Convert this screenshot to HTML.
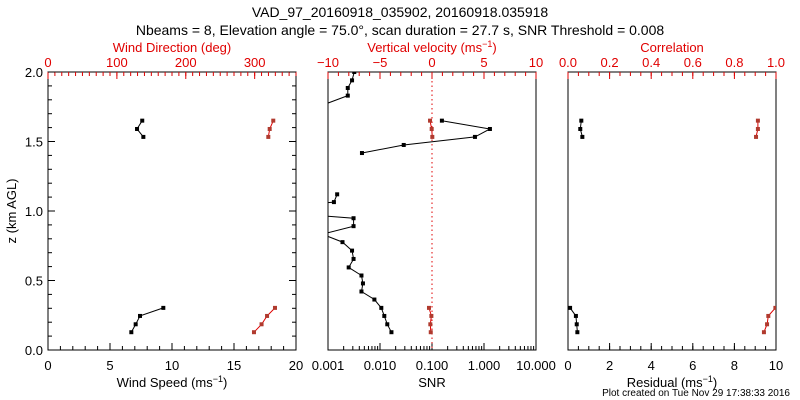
<!DOCTYPE html>
<html><head><meta charset="utf-8"><style>
body{margin:0;background:#fff;}
svg{display:block;font-family:"Liberation Sans",sans-serif;}
</style></head><body>
<svg id="c" width="800" height="400" viewBox="0 0 800 400">
<text x="400" y="17" text-anchor="middle" font-size="14">VAD_97_20160918_035902, 20160918.035918</text>
<text x="400" y="35" text-anchor="middle" font-size="14">Nbeams = 8, Elevation angle = 75.0°, scan duration = 27.7 s, SNR Threshold = 0.008</text>
<text transform="translate(16,211) rotate(-90)" text-anchor="middle" font-size="13">z (km AGL)</text>
<text x="790" y="396" text-anchor="end" font-size="10">Plot created on Tue Nov 29 17:38:33 2016</text>
</svg>
<script>
// ---- data ----
const zLow=[0.128,0.185,0.245,0.303];
const zHigh=[1.533,1.59,1.65];
const speedLow=[6.72,7.07,7.42,9.3];
const speedHigh=[7.69,7.18,7.6];
const dirLow=[299,310,318,329.5];
const dirHigh=[319.8,321.8,327];
const snrZ=[0.128,0.185,0.245,0.303,0.363,0.421,0.479,0.536,0.594,0.655,0.715,0.776,0.833,0.891,0.948,1.006,1.064,1.12,null,1.417,1.475,1.533,1.59,1.65,null,1.77,1.83,1.885,1.94,2.0];
const snrVal=[0.0166,0.0138,0.0121,0.0106,0.0078,0.0044,0.0047,0.0044,0.0025,0.0031,0.0029,0.0019,0.00078,0.0031,0.0031,0.00003,0.0013,0.0015,null,0.0045,0.0286,0.67,1.30,0.155,null,0.0009,0.0024,0.0024,0.0029,0.0032];
const wLow=[-0.12,-0.16,-0.06,-0.29];
const wHigh=[0.03,-0.03,-0.19];
const resLow=[0.45,0.42,0.38,0.1];
const resHigh=[0.69,0.59,0.64];
const corLow=[0.942,0.957,0.963,0.997];
const corHigh=[0.904,0.913,0.913];
const yTicks=["0.0","0.5","1.0","1.5","2.0"];
const speedTicks=["0","5","10","15","20"];
const dirTicks=["0","100","200","300"];
const snrTicks=["0.001","0.010","0.100","1.000","10.000"];
const wTicks=["−10","−5","0","5","10"];
const resTicks=["0","2","4","6","8","10"];
const corTicks=["0.0","0.2","0.4","0.6","0.8","1.0"];

const svg=document.getElementById('c');const NS='http://www.w3.org/2000/svg';
function el(t,a,p){const e=document.createElementNS(NS,t);for(const k in a)e.setAttribute(k,a[k]);(p||svg).appendChild(e);return e;}
const Y0=350,Y1=72;
const yS=z=>Y0+(Y1-Y0)*z/2;
const P=[{x0:48,x1:296},{x0:328,x1:536},{x0:568,x1:776}];
const lin=(p,a,b)=>v=>p.x0+(p.x1-p.x0)*(v-a)/(b-a);
const xSpeed=lin(P[0],0,20),xDir=lin(P[0],0,360);
const xSnr=v=>P[1].x0+(P[1].x1-P[1].x0)*(Math.log10(v)+3)/4;
const xW=lin(P[1],-10,10);
const xRes=lin(P[2],0,10),xCor=lin(P[2],0,1);
const RED='#e00000',BR='#b03a2e';

P.forEach((p,i)=>{
 const c=el('clipPath',{id:'cp'+i});el('rect',{x:p.x0,y:Y1,width:p.x1-p.x0,height:Y0-Y1},c);
});
// frames
P.forEach((p,i)=>{
 const r=el('rect',{x:p.x0,y:Y1,width:p.x1-p.x0,height:Y0-Y1,fill:'none',stroke:'#000','stroke-width':1});
 
 
});
function hTicks(p,scale,majors,minors,y,dir,col,labels,ly){
 minors.forEach(v=>{const x=scale(v);el('line',{x1:x,x2:x,y1:y,y2:y+dir*4,stroke:col});});
 majors.forEach((v,i)=>{const x=scale(v);el('line',{x1:x,x2:x,y1:y,y2:y+dir*7,stroke:col});
  const t=el('text',{x:x,y:ly,'text-anchor':'middle','font-size':13,fill:col});t.textContent=labels[i];
  
  });
}
const rng=(a,b,s)=>{const r=[];for(let v=a;v<=b+1e-9;v+=s)r.push(+v.toFixed(6));return r;};
// panel 1
hTicks(P[0],xSpeed,[0,5,10,15,20],rng(0,20,1),Y0,-1,'#000',speedTicks,370);
hTicks(P[0],xDir,[0,100,200,300],rng(0,360,10),Y1,1,RED,dirTicks,67);
[0,0.5,1,1.5,2].forEach((z,i)=>{const y=yS(z);
 el('line',{x1:P[0].x0,x2:P[0].x0+7,y1:y,y2:y,stroke:'#000'});el('line',{x1:P[0].x1,x2:P[0].x1-7,y1:y,y2:y,stroke:'#000'});
 const t=el('text',{x:43,y:y+5,'text-anchor':'end','font-size':13});t.textContent=yTicks[i];
 
 });
rng(0,2,0.1).forEach(z=>{const y=yS(z);el('line',{x1:P[0].x0,x2:P[0].x0+4,y1:y,y2:y,stroke:'#000'});el('line',{x1:P[0].x1,x2:P[0].x1-4,y1:y,y2:y,stroke:'#000'});});
// panel 2
const snrMin=[];for(let d=-3;d<1;d++)for(let k=1;k<10;k++)snrMin.push(k*Math.pow(10,d));
hTicks(P[1],xSnr,[0.001,0.01,0.1,1,10],snrMin,Y0,-1,'#000',snrTicks,370);
hTicks(P[1],xW,[-10,-5,0,5,10],rng(-10,10,1),Y1,1,RED,wTicks,67);
// panel 3
hTicks(P[2],xRes,[0,2,4,6,8,10],rng(0,10,0.5),Y0,-1,'#000',resTicks,370);
hTicks(P[2],xCor,[0,0.2,0.4,0.6,0.8,1],rng(0,1,0.05),Y1,1,RED,corTicks,67);
// axis titles
function title(x,y,txt,col,name){const t=el('text',{x:x,y:y,'text-anchor':'middle','font-size':13,fill:col});t.innerHTML=txt;
 
 }
title(172,387,'Wind Speed (ms<tspan dy="-5" font-size="9">−1</tspan><tspan dy="5">)</tspan>','#000','x-axis-title-speed');
title(172,52,'Wind Direction (deg)',RED,'x-axis-title-direction');
title(432,387,'SNR','#000','x-axis-title-snr');
title(432,52,'Vertical velocity (ms<tspan dy="-5" font-size="9">−1</tspan><tspan dy="5">)</tspan>',RED,'x-axis-title-w');
title(672,387,'Residual (ms<tspan dy="-5" font-size="9">−1</tspan><tspan dy="5">)</tspan>','#000','x-axis-title-residual');
title(672,52,'Correlation',RED,'x-axis-title-correlation');
// dotted zero line
const zl=el('line',{x1:xW(0),x2:xW(0),y1:Y1,y2:Y0,stroke:RED,'stroke-dasharray':'1.5,3'});


// series
function series(xs,zs,xf,lc,mc,clip,name){
 const g=el('g',{'clip-path':'url(#cp'+clip+')'});
 
 
 let d='',pen=false;
 for(let i=0;i<xs.length;i++){if(xs[i]==null||zs[i]==null){pen=false;continue;}
  d+=(pen?'L':'M')+xf(xs[i]).toFixed(1)+','+yS(zs[i]).toFixed(1);pen=true;}
 el('path',{d:d,fill:'none',stroke:lc,'stroke-width':1},g);
 for(let i=0;i<xs.length;i++){if(xs[i]==null||zs[i]==null)continue;
  el('rect',{x:xf(xs[i])-2,y:yS(zs[i])-2,width:4,height:4,fill:mc},g);}
}
series(speedLow,zLow,xSpeed,'#000','#000',0,'speed-low');
series(speedHigh,zHigh,xSpeed,'#000','#000',0,'speed-high');
series(dirLow,zLow,xDir,RED,BR,0,'direction-low');
series(dirHigh,zHigh,xDir,RED,BR,0,'direction-high');
series(snrVal,snrZ,xSnr,'#000','#000',1,'snr-profile');
series(wLow,zLow,xW,RED,BR,1,'w-low');
series(wHigh,zHigh,xW,RED,BR,1,'w-high');
series(resLow,zLow,xRes,'#000','#000',2,'residual-low');
series(resHigh,zHigh,xRes,'#000','#000',2,'residual-high');
series(corLow,zLow,xCor,RED,BR,2,'correlation-low');
series(corHigh,zHigh,xCor,RED,BR,2,'correlation-high');
</script>
</body></html>
